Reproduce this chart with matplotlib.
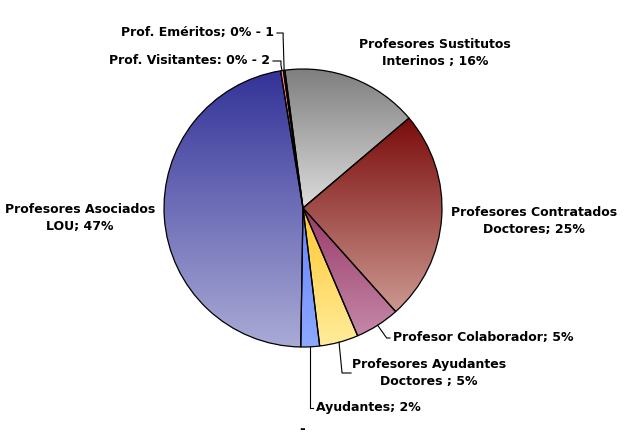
import numpy as np
import matplotlib.pyplot as plt
from matplotlib.colors import to_rgb

# staff counts, clockwise from the top
categories = ['Profesores Sustitutos Interinos', 'Profesores Contratados Doctores',
              'Profesor Colaborador', 'Profesores Ayudantes Doctores', 'Ayudantes',
              'Profesores Asociados LOU', 'Prof. Visitantes', 'Prof. Eméritos']
counts = [95, 147, 31, 27, 13, 282, 2, 1]
label_texts = ['Profesores Sustitutos\nInterinos ; 16%',
               'Profesores Contratados\nDoctores; 25%',
               'Profesor Colaborador; 5%',
               'Profesores Ayudantes\nDoctores ; 5%',
               'Ayudantes; 2%',
               'Profesores Asociados\nLOU; 47%',
               'Prof. Visitantes: 0% - 2',
               'Prof. Eméritos; 0% - 1']

top_colors = ['#7f7f7f', '#7a0c0c', '#9a3a68', '#ffc830', '#6680ff', '#333399', '#ff7f7f', '#ffffff']
bottom_colors = ['#dcdcdc', '#cc9890', '#c488a8', '#ffec9c', '#8caaff', '#aaaad6', '#ff7f7f', '#ffffff']

# layout in pixel coords (y from top): x, y, ha, leader elbow dx (None = no leader)
label_pos = [(435, 53, 'center', None),
             (534, 221, 'center', None),
             (393, 338, 'left', 9),
             (429, 373, 'center', 3),
             (316, 408, 'left', 0),
             (80, 218, 'center', None),
             (270, 61, 'right', -3),
             (274, 33, 'right', -3)]

W, H = 624, 436
cx, cy, R = 303, H - 208, 139

fig = plt.figure(figsize=(6.24, 4.36), dpi=100)
ax = fig.add_axes([0, 0, 1, 1])

wedges, _ = ax.pie(counts, startangle=97.5, counterclock=False, center=(cx, cy), radius=R,
                   wedgeprops=dict(edgecolor='black', linewidth=0.9, facecolor='none'))

for w, c0, c1 in zip(wedges, top_colors, bottom_colors):
    ext = w.get_path().get_extents()
    t = np.linspace(0, 1, 128)[:, None]
    grad = (1 - t) * np.array(to_rgb(c0)) + t * np.array(to_rgb(c1))
    im = ax.imshow(grad[:, None, :], extent=(ext.x0, ext.x1, ext.y0, ext.y1),
                   origin='upper', aspect='auto', interpolation='bilinear', zorder=0.5)
    im.set_clip_path(w)
    w.set_zorder(1)

for w, txt, (lx, ly, ha, dx) in zip(wedges, label_texts, label_pos):
    ly = H - ly
    ax.text(lx, ly, txt, ha=ha, va='center', fontsize=9, fontweight='bold',
            family='DejaVu Sans', linespacing=1.35, zorder=3)
    if dx is None:
        continue
    mid = np.deg2rad((w.theta1 + w.theta2) / 2)
    ax_, ay_ = cx + R * np.cos(mid), cy + R * np.sin(mid)
    if ha == 'right':
        xs = [lx + 3, ax_ + dx + 2, ax_ + dx + 2, ax_]
        ys = [ly, ly, ly - 4, ay_]
    elif ha == 'left':
        xs = [ax_, ax_ + dx, lx - 3]
        ys = [ay_, ly, ly]
    else:
        x_end = lx - 78
        xs = [ax_, ax_ + dx, x_end]
        ys = [ay_, ly, ly]
    ax.plot(xs, ys, color='black', lw=0.8, zorder=2)

ax.text(302, 0, '-', ha='center', va='bottom', fontsize=10, fontweight='bold',
        family='DejaVu Sans')

ax.set_xlim(0, W)
ax.set_ylim(0, H)
ax.set_aspect('equal')
ax.axis('off')

fig.savefig('out.png', dpi=100)
